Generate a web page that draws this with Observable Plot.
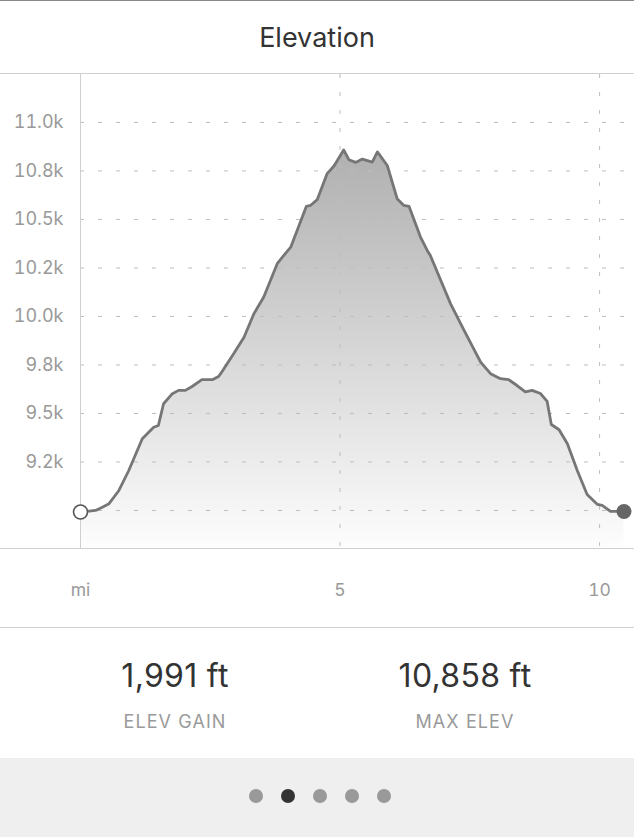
<!DOCTYPE html>
<html>
<head>
<meta charset="utf-8">
<script src="https://cdn.jsdelivr.net/npm/d3@7"></script>
<script src="https://cdn.jsdelivr.net/npm/@observablehq/plot@0.6"></script>
<style>
  html, body { margin: 0; padding: 0; background: #fff; }
  body { width: 634px; font-family: Inter, Roboto, "Liberation Sans", sans-serif; }
  .topline { height: 1px; background: #8a8a8a; }
  .header { height: 72px; border-bottom: 1px solid #cfcfcf; display: flex; align-items: center; justify-content: center; font-size: 27px; color: #333; font-weight: 400; }
  .chart { position: relative; height: 553px; border-bottom: 1px solid #cfcfcf; }
  .chart svg { display: block; }
  .baseline { position: absolute; left: 0; right: 0; top: 474px; height: 1px; background: #cfcfcf; }
  .stats { position: relative; height: 130px; }
  .stat { position: absolute; width: 240px; text-align: center; }
  .stat .val { position: absolute; left: 0; right: 0; top: 28px; font-size: 32px; color: #333; letter-spacing: 0.3px; }
  .stat .lab { position: absolute; left: 0; right: 0; top: 83px; font-size: 18px; color: #9a9a9a; letter-spacing: 1.1px; }
  .footer { height: 79px; background: #efefef; display: flex; align-items: center; justify-content: center; gap: 18px; padding-left: 6px; padding-bottom: 4px; box-sizing: border-box; }
  .dot { width: 14px; height: 14px; border-radius: 50%; background: #999; }
  .dot.on { background: #333; }
</style>
</head>
<body>
<div class="topline"></div>
<div class="header">Elevation</div>
<div class="chart" id="chart"><div class="baseline"></div></div>
<div class="stats">
  <div class="stat" style="left:55px"><div class="val" id="v0"></div><div class="lab" id="l0"></div></div>
  <div class="stat" style="left:345px"><div class="val" id="v1"></div><div class="lab" id="l1"></div></div>
</div>
<div class="footer" id="footer"></div>
<script>
// Distance along trail (miles)
const miles = [0.00, 0.29, 0.42, 0.55, 0.74, 0.93, 1.19, 1.41, 1.50, 1.60, 1.77, 1.89, 2.02, 2.15, 2.34, 2.54, 2.66, 2.70, 2.95, 3.15, 3.34, 3.53, 3.79, 3.89, 4.05, 4.21, 4.35, 4.43, 4.56, 4.75, 4.82, 4.89, 5.07, 5.17, 5.30, 5.43, 5.62, 5.72, 5.91, 6.10, 6.23, 6.33, 6.55, 6.68, 6.74, 7.13, 7.39, 7.58, 7.71, 7.90, 8.09, 8.25, 8.41, 8.57, 8.70, 8.86, 8.99, 9.07, 9.22, 9.38, 9.57, 9.76, 9.96, 10.05, 10.21, 10.47];
// Elevation (feet)
const elevation = [8992, 9000, 9017, 9035, 9103, 9206, 9370, 9429, 9438, 9550, 9602, 9619, 9619, 9639, 9674, 9674, 9691, 9705, 9808, 9893, 10014, 10100, 10272, 10306, 10357, 10469, 10567, 10572, 10602, 10736, 10756, 10778, 10858, 10808, 10794, 10811, 10795, 10848, 10778, 10607, 10572, 10567, 10409, 10340, 10314, 10065, 9928, 9830, 9764, 9705, 9679, 9674, 9644, 9611, 9619, 9603, 9562, 9443, 9416, 9344, 9206, 9082, 9031, 9026, 8996, 8995];

const yGrid = [9000, 9250, 9500, 9750, 10000, 10250, 10500, 10750, 11000];
const yTicks = [9250, 9500, 9750, 10000, 10250, 10500, 10750, 11000];
const yTickLabels = ["9.2k", "9.5k", "9.8k", "10.0k", "10.2k", "10.5k", "10.8k", "11.0k"];
const xTicks = [0, 5, 10];
const xTickLabels = ["mi", "5", "10"];
const xDomain = [0, 10.48];
const yDomain = [8804, 11247];

const statValues = ["1,991 ft", "10,858 ft"];
const statLabels = ["ELEV GAIN", "MAX ELEV"];
const pageCount = 5;
const activePage = 1;

const data = miles.map((m, i) => ({mi: m, ft: elevation[i]}));
const yLab = new Map(yTicks.map((t, i) => [t, yTickLabels[i]]));
const xLab = new Map(xTicks.map((t, i) => [t, xTickLabels[i]]));

const gradient = () => {
  const defs = d3.create("svg:defs");
  const g = defs.append("linearGradient").attr("id", "elevGrad")
    .attr("x1", 0).attr("y1", 0).attr("x2", 0).attr("y2", 1);
  g.append("stop").attr("offset", "0%").attr("stop-color", "#b0b0b0");
  g.append("stop").attr("offset", "55%").attr("stop-color", "#dadada");
  g.append("stop").attr("offset", "100%").attr("stop-color", "#fdfdfd");
  return defs.node();
};

const chart = Plot.plot({
  width: 634,
  height: 553,
  marginTop: 0,
  marginBottom: 79,
  marginLeft: 80,
  marginRight: 10,
  style: {fontFamily: "Inter, Roboto, 'Liberation Sans', sans-serif", color: "#999", background: "transparent"},
  x: {domain: xDomain},
  y: {domain: yDomain},
  marks: [
    gradient,
    Plot.areaY(data, {x: "mi", y1: yDomain[0], y2: "ft", fill: "url(#elevGrad)"}),
    Plot.ruleY(yGrid, {stroke: "#bdbdbd", strokeWidth: 1, strokeDasharray: "4,14"}),
    Plot.ruleX(xTicks.slice(1), {stroke: "#bdbdbd", strokeWidth: 1, strokeDasharray: "4,14"}),
    Plot.ruleX([xTicks[0]], {stroke: "#cfcfcf", strokeWidth: 1}),
    Plot.line(data, {x: "mi", y: "ft", stroke: "#767676", strokeWidth: 2.8, strokeLinejoin: "round"}),
    Plot.dot([data[0]], {x: "mi", y: "ft", r: 7, fill: "#fff", stroke: "#555", strokeWidth: 1.6}),
    Plot.dot([data[data.length - 1]], {x: "mi", y: "ft", r: 7.5, fill: "#666", stroke: "none"}),
    Plot.axisY({ticks: yTicks, tickFormat: d => yLab.get(d), tickSize: 0, tickPadding: 17, fontSize: 18, label: null}),
    Plot.axisX({ticks: xTicks, tickFormat: d => xLab.get(d), tickSize: 0, tickPadding: 35, fontSize: 17.5, label: null})
  ]
});
document.getElementById("chart").prepend(chart);

statValues.forEach((v, i) => {
  document.getElementById("v" + i).textContent = v;
  document.getElementById("l" + i).textContent = statLabels[i];
});
const footer = document.getElementById("footer");
for (let i = 0; i < pageCount; i++) {
  const d = document.createElement("div");
  d.className = "dot" + (i === activePage ? " on" : "");
  footer.appendChild(d);
}
</script>
</body>
</html>
